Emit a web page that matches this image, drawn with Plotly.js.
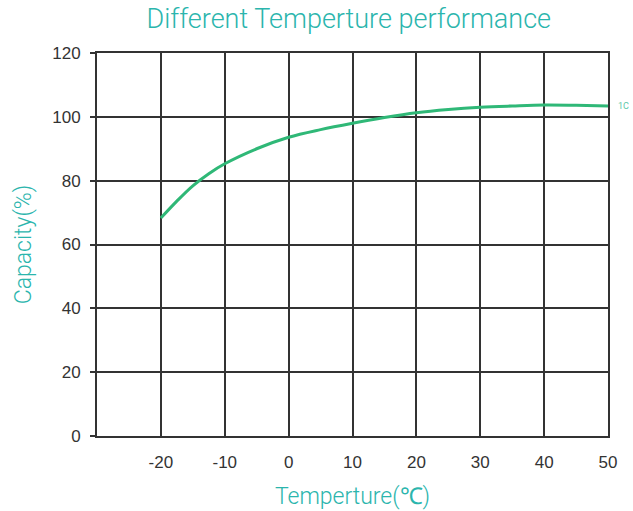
<!DOCTYPE html>
<html>
<head>
<meta charset="utf-8">
<script src="https://cdn.plot.ly/plotly-3.0.1.min.js"></script>
<style>html,body{margin:0;padding:0;background:#fff;}#chart{width:633px;height:511px;}</style>
</head>
<body>
<div id="chart"></div>
<script>
const temperature = [-20, -17.5, -15, -12.5, -10, -5, 0, 5, 10, 15, 20, 25, 30, 35, 40, 45, 50];
const capacity = [68.3, 73.6, 78.4, 82.2, 85.3, 90, 93.6, 96, 98, 99.8, 101.3, 102.3, 103, 103.4, 103.7, 103.6, 103.4];
const seriesName = "1C";
const xTicks = [-20, -10, 0, 10, 20, 30, 40, 50];
const yTicks = [0, 20, 40, 60, 80, 100, 120];

const teal = "#2bb5ad";
const trace = {
  x: temperature, y: capacity, mode: "lines", name: seriesName,
  line: {color: "#2fb877", width: 3, shape: "spline", smoothing: 1},
  hoverinfo: "skip"
};
const lastIdx = temperature.length - 1;
const layout = {
  width: 633, height: 511,
  margin: {l: 97, r: 25, t: 53, b: 75, pad: 0},
  paper_bgcolor: "#fff", plot_bgcolor: "#fff",
  showlegend: false,
  font: {family: "'Liberation Sans', sans-serif", color: "#333"},
  title: {text: "Different Temperture performance", x: 0.551, xanchor: "center", y: 0.982, yanchor: "top",
          font: {size: 27, color: teal, family: "Roboto, sans-serif", weight: 300}},
  xaxis: {
    range: [-30, 50], tickvals: xTicks, ticktext: xTicks.map(String),
    showgrid: true, gridcolor: "#333", gridwidth: 2,
    showline: true, linecolor: "#333", linewidth: 2, mirror: true,
    zeroline: false, ticks: "", ticklen: 0, ticklabelstandoff: 10,
    tickfont: {size: 17, color: "#333", family: "'Liberation Sans', sans-serif"},
    title: {text: "Temperture(℃)", font: {size: 23, color: teal, family: "Roboto, sans-serif", weight: 300}, standoff: 16},
    automargin: false
  },
  yaxis: {
    range: [0, 120], tickvals: yTicks, ticktext: yTicks.map(String),
    showgrid: true, gridcolor: "#333", gridwidth: 2,
    showline: true, linecolor: "#333", linewidth: 2, mirror: true,
    zeroline: false, ticks: "outside", ticklen: 5, tickcolor: "#333", tickwidth: 2, ticklabelstandoff: 6,
    tickfont: {size: 17, color: "#333", family: "'Liberation Sans', sans-serif"},
    title: {text: "Capacity(%)", font: {size: 23, color: teal, family: "Roboto, sans-serif", weight: 300}, standoff: 14},
    automargin: false
  },
  annotations: [{
    x: temperature[lastIdx], y: capacity[lastIdx], xref: "x", yref: "y",
    text: seriesName, showarrow: false, xanchor: "left", xshift: 8,
    font: {size: 9, color: "#5cc8a8", family: "Roboto, sans-serif"}
  }]
};
Plotly.newPlot("chart", [trace], layout, {displayModeBar: false, staticPlot: true});
</script>
</body>
</html>
